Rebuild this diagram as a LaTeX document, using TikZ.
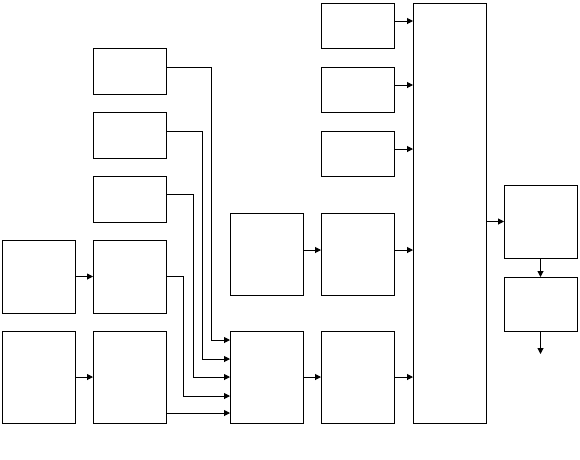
\documentclass[tikz,border=0pt]{standalone}
\usetikzlibrary{arrows.meta}
\begin{document}
\begin{tikzpicture}[x=1pt,y=-1pt,
  box/.style={draw=black,line width=1pt,fill=white,inner sep=0pt,outer sep=0pt,minimum width=73pt},
  arr/.style={line width=1pt,-{Triangle[length=6pt,width=6pt]}},
  ln/.style={line width=1pt}]
\useasboundingbox[fill=white] (0,0) rectangle (580,459);
% column A
\node[box,minimum height=73pt] (A1) at (38.5,276.5) {};
\node[box,minimum height=92pt] (A2) at (38.5,377) {};
% column B
\node[box,minimum height=46pt] (B1) at (129.5,71) {};
\node[box,minimum height=46pt] (B2) at (129.5,135) {};
\node[box,minimum height=46pt] (B3) at (129.5,199) {};
\node[box,minimum height=73pt] (B4) at (129.5,276.5) {};
\node[box,minimum height=92pt] (B5) at (129.5,377) {};
% column C
\node[box,minimum height=82pt] (C1) at (266.5,254) {};
\node[box,minimum height=92pt] (C2) at (266.5,377) {};
% column D
\node[box,minimum height=45pt] (D1) at (357.5,25.5) {};
\node[box,minimum height=45pt] (D2) at (357.5,89.5) {};
\node[box,minimum height=45pt] (D3) at (357.5,153.5) {};
\node[box,minimum height=82pt] (D4) at (357.5,254) {};
\node[box,minimum height=92pt] (D5) at (357.5,377) {};
% column E
\node[box,minimum height=420pt] (E) at (449.5,213) {};
% column F
\node[box,minimum height=73pt] (F1) at (540.5,221.5) {};
\node[box,minimum height=54pt] (F2) at (540.5,304) {};
% connectors
\draw[arr] (A1.east) -- (B4.west);
\draw[arr] (A2.east) -- (B5.west);
\draw[arr] ([yshift=4pt]B1.east) -- ++(45,0) |- ([yshift=37pt]C2.west);
\draw[arr] ([yshift=4pt]B2.east) -- ++(36,0) |- ([yshift=18pt]C2.west);
\draw[arr] ([yshift=5pt]B3.east) -- ++(27,0) |- (C2.west);
\draw[arr] (B4.east) -- ++(17,0) |- ([yshift=-19pt]C2.west);
\draw[arr] ([yshift=-36pt]B5.east) -- ([yshift=-36pt]C2.west);
\draw[arr] ([yshift=4pt]C1.east) -- ([yshift=4pt]D4.west);
\draw[arr] (C2.east) -- (D5.west);
\draw[arr] ([yshift=4.5pt]D1.east) -- ([yshift=4.5pt]D1.east -| E.west);
\draw[arr] ([yshift=4.5pt]D2.east) -- ([yshift=4.5pt]D2.east -| E.west);
\draw[arr] ([yshift=4.5pt]D3.east) -- ([yshift=4.5pt]D3.east -| E.west);
\draw[arr] ([yshift=4pt]D4.east) -- ([yshift=4pt]D4.east -| E.west);
\draw[arr] (D5.east) -- (D5.east -| E.west);
\draw[arr] (F1.west -| E.east) -- (F1.west);
\draw[arr] (F1.south) -- (F2.north);
\coordinate (out) at ([yshift=-23pt]F2.south);
\draw[arr] (F2.south) -- (out);
\end{tikzpicture}
\end{document}
